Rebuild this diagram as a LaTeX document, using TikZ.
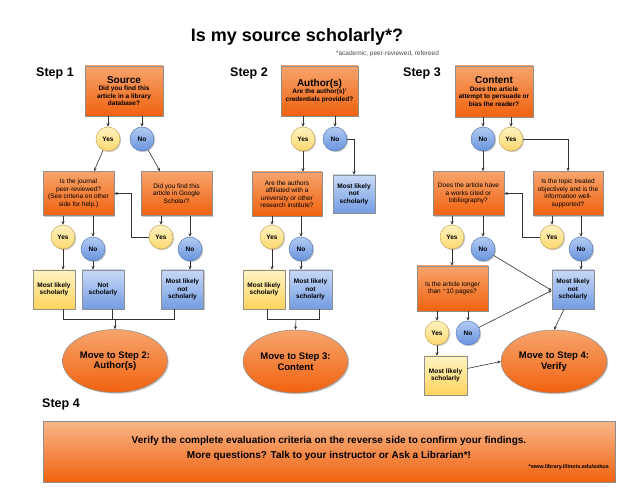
\documentclass[tikz,border=0pt]{standalone}
\usepackage{fontspec}
\setmainfont{Liberation Sans}
\usetikzlibrary{shapes.geometric,shadows,arrows.meta,calc}
\definecolor{ortop}{HTML}{F7A46C}
\definecolor{orbot}{HTML}{F0620F}
\definecolor{yltop}{HTML}{FFF2C0}
\definecolor{ylbot}{HTML}{FDD870}
\definecolor{ylline}{HTML}{C9A850}
\definecolor{bltop}{HTML}{B3CBF3}
\definecolor{blbot}{HTML}{6893DD}
\definecolor{blline}{HTML}{5A7CB8}
\definecolor{ybtop}{HTML}{FFF3C2}
\definecolor{ybbot}{HTML}{FFD45E}
\definecolor{bbtop}{HTML}{C8D9F6}
\definecolor{bbbot}{HTML}{729CE3}
\definecolor{boxline}{HTML}{8E8E8E}
\definecolor{linec}{HTML}{333333}
\tikzset{
  base/.style={draw=boxline, line width=0.5pt, inner sep=0pt, align=center,
    font=\fontsize{6.5}{7.5}\selectfont\bfseries,
    drop shadow={shadow xshift=1.2pt, shadow yshift=-1.2pt, opacity=0.35, fill=black!60}},
  obox/.style={base, rectangle, top color=ortop, bottom color=orbot},
  qbox/.style={obox, font=\fontsize{6.5}{7.5}\selectfont, minimum width=71pt, minimum height=44pt},
  ycirc/.style={base, circle, minimum size=24pt, top color=yltop, bottom color=ylbot, draw=ylline},
  bcirc/.style={base, circle, minimum size=24pt, top color=bltop, bottom color=blbot, draw=blline},
  ybox/.style={base, rectangle, top color=ybtop, bottom color=ybbot, minimum width=42pt, minimum height=39pt},
  bbox/.style={base, rectangle, top color=bbtop, bottom color=bbbot, minimum width=42pt, minimum height=39pt},
  goal/.style={base, ellipse, top color=ortop, bottom color=orbot, minimum width=105pt, minimum height=63pt,
    font=\fontsize{9.5}{10.5}\selectfont\bfseries},
  arr/.style={-{Stealth[length=3.5pt,width=3pt]}, draw=linec, line width=0.6pt},
  ln/.style={draw=linec, line width=0.6pt},
  steplbl/.style={font=\fontsize{12.5}{14}\selectfont\bfseries, inner sep=0pt, anchor=west}
}
\begin{document}
\begin{tikzpicture}[x=1pt,y=-1pt]
\useasboundingbox[fill=white] (0,0) rectangle (640,494);

% title
\node[font=\fontsize{18}{20}\selectfont\bfseries, inner sep=0pt] (title) at (297,37) {Is my source scholarly*?};
\node[font=\fontsize{6.5}{7}\selectfont, text=black!70, inner sep=0pt] (sub) at (387.5,54) {*academic, peer-reviewed, refereed};

\node[steplbl] (s1) at (36,73) {Step 1};
\node[steplbl] (s2) at (230,73) {Step 2};
\node[steplbl] (s3) at (403,73) {Step 3};
\node[steplbl] (s4) at (42,404) {Step 4};

% ---------- Step 1
\node[obox, minimum width=78pt, minimum height=50pt] (src) at (124,91)
  {{\fontsize{10}{11}\selectfont Source}\\Did you find this\\article in a library\\database?};
\node[ycirc] (y1) at (108,139) {Yes};
\node[bcirc] (n1) at (142,139) {No};
\node[qbox] (q1a) at (78.5,193.5) {Is the journal\\peer-reviewed?\\(See criteria on other\\side for help.)};
\node[qbox] (q1b) at (176.5,193.5) {Did you find this\\article in Google\\Scholar?};
\node[ycirc] (y1a) at (63,237) {Yes};
\node[bcirc] (n1a) at (93,249) {No};
\node[ycirc] (y1b) at (161,237) {Yes};
\node[bcirc] (n1b) at (190,249) {No};
\node[ybox] (r1a) at (54,289.5) {Most likely\\scholarly};
\node[bbox] (r1b) at (103,289.5) {Not\\scholarly};
\node[bbox] (r1c) at (182.5,289.5) {Most likely\\not\\scholarly};
\node[goal] (e1) at (115,361) {Move to Step 2:\\Author(s)};

\draw[arr] (src.south -| y1) -- (y1.north);
\draw[arr] (src.south -| n1) -- (n1.north);
\draw[arr] (y1) -- ($(q1a.north)+(15.5,0)$);
\draw[arr] (n1) -- ($(q1b.north)+(-16.5,0)$);
\draw[arr] (q1a.south -| y1a) -- (y1a.north);
\draw[arr] (q1a.south -| n1a) -- (n1a.north);
\draw[arr] (q1b.south -| y1b) -- (y1b.north);
\draw[arr] (q1b.south -| n1b) -- (n1b.north);
\draw[arr] (y1b.west) -| ($(q1a.east)+(17,0)$) -- (q1a.east);
\draw[arr] (y1a.south) -- (y1a.south |- r1a.north);
\draw[arr] (n1a.south) -- (n1a.south |- r1b.north);
\draw[arr] (n1b.south) -- (n1b.south |- r1c.north);
\coordinate (j1) at (115,319);
\draw[ln] ($(r1a.south)+(9,0)$) |- ($(r1c.south)+(-8.5,10)$) -- ($(r1c.south)+(-8.5,0)$);
\draw[ln] ($(r1b.south)+(9,0)$) -- ++(0,10);
\draw[arr] (j1) -- (e1.north);

% ---------- Step 2
\node[obox, minimum width=77pt, minimum height=50pt] (auth) at (319.5,91)
  {{\fontsize{10}{11}\selectfont Author(s)}\\Are the author(s)'\\credentials provided?};
\node[ycirc] (y2) at (303,139) {Yes};
\node[bcirc] (n2) at (335,139) {No};
\node[qbox, minimum width=70pt] (q2) at (287,194) {Are the authors\\affiliated with a\\university or other\\research institute?};
\node[bbox, minimum height=38pt] (r2n) at (354,194) {Most likely\\not\\scholarly};
\node[ycirc] (y2a) at (272,237) {Yes};
\node[bcirc] (n2a) at (301,249) {No};
\node[ybox] (r2a) at (264,289.5) {Most likely\\scholarly};
\node[bbox, minimum width=43pt] (r2b) at (310.5,289.5) {Most likely\\not\\scholarly};
\node[goal] (e2) at (295.5,361.5) {Move to Step 3:\\Content};

\draw[arr] (auth.south -| y2) -- (y2.north);
\draw[arr] (auth.south -| n2) -- (n2.north);
\draw[arr] (n2.east) -| (r2n.north);
\draw[arr] (y2.south) -- (y2.south |- q2.north);
\draw[arr] (q2.south -| y2a) -- (y2a.north);
\draw[arr] (q2.south -| n2a) -- (n2a.north);
\draw[arr] (y2a.south) -- (y2a.south |- r2a.north);
\draw[arr] (n2a.south) -- (n2a.south |- r2b.north);
\coordinate (j2) at (296,319);
\draw[ln] ($(r2a.south)+(3,0)$) |- ($(r2b.south)+(8.5,10)$) -- ($(r2b.south)+(8.5,0)$);
\draw[arr] (j2) -- (e2.north);

% ---------- Step 3
\node[obox, minimum width=78pt, minimum height=51pt] (cont) at (494,91.5)
  {{\fontsize{10}{11}\selectfont Content}\\Does the article\\attempt to persuade or\\bias the reader?};
\node[bcirc] (n3) at (483,139) {No};
\node[ycirc] (y3) at (511,139) {Yes};
\node[qbox] (q3a) at (468.5,193.5) {Does the article have\\a works cited or\\bibliography?};
\node[qbox, minimum width=70pt] (q3b) at (568,193.5) {Is the topic treated\\objectively and is the\\information well-\\supported?};
\node[ycirc] (y3a) at (452,237) {Yes};
\node[bcirc] (n3a) at (483,249) {No};
\node[ycirc] (y3b) at (552,237) {Yes};
\node[bcirc] (n3b) at (581,249) {No};
\node[bbox] (r3n) at (573,289.5) {Most likely\\not\\scholarly};
\node[qbox, minimum height=45pt] (q3c) at (452.5,288.5) {Is the article longer\\than {\raisebox{0.3ex}{\char`\~}}10 pages?};
\node[ycirc] (y3c) at (437,333) {Yes};
\node[bcirc] (n3c) at (468,333) {No};
\node[ybox, minimum width=43pt] (r3y) at (445.5,375.5) {Most likely\\scholarly};
\node[goal, minimum width=106pt] (e3) at (554,361.5) {Move to Step 4:\\Verify};

\draw[arr] (cont.south -| n3) -- (n3.north);
\draw[arr] (cont.south -| y3) -- (y3.north);
\draw[arr] (y3.east) -| (q3b.north);
\draw[arr] (n3.south) -- (n3.south |- q3a.north);
\draw[arr] (q3a.south -| y3a) -- (y3a.north);
\draw[arr] (q3a.south -| n3a) -- (n3a.north);
\draw[arr] (q3b.south -| y3b) -- (y3b.north);
\draw[arr] (q3b.south -| n3b) -- (n3b.north);
\draw[arr] (y3b.west) -| ($(q3a.east)+(18,0)$) -- (q3a.east);
\draw[arr] (n3b.south) -- (n3b.south |- r3n.north);
\draw[arr] (n3a) -- ($(r3n.west)+(0,1)$);
\draw[arr] (y3a.south) -- (y3a.south |- q3c.north);
\draw[arr] (q3c.south -| y3c) -- (y3c.north);
\draw[arr] (q3c.south -| n3c) -- (n3c.north);
\draw[arr] (n3c) -- ($(r3n.west)+(0,1)$);
\draw[arr] (y3c.south) -- (y3c.south |- r3y.north);
\draw[arr] ($(r3y.east)+(0,-7)$) -- (e3.west);
\draw[arr] ($(r3n.south)+(-9,0)$) -- (e3.north);

% ---------- Step 4
\node[base, rectangle, top color=ortop!80!white, bottom color=orbot, minimum width=572pt, minimum height=61pt] (v) at (329,451.5) {};
\node[font=\fontsize{10}{15}\selectfont\bfseries, align=center, inner sep=0pt] (vt) at (329,448)
  {Verify the complete evaluation criteria on the reverse side to confirm your findings.\\More questions? Talk to your instructor or Ask a Librarian*!};
\node[font=\fontsize{5.5}{6}\selectfont\bfseries, inner sep=0pt, anchor=east] (url) at (609,467) {*www.library.illinois.edu/askus};
\end{tikzpicture}
\end{document}
